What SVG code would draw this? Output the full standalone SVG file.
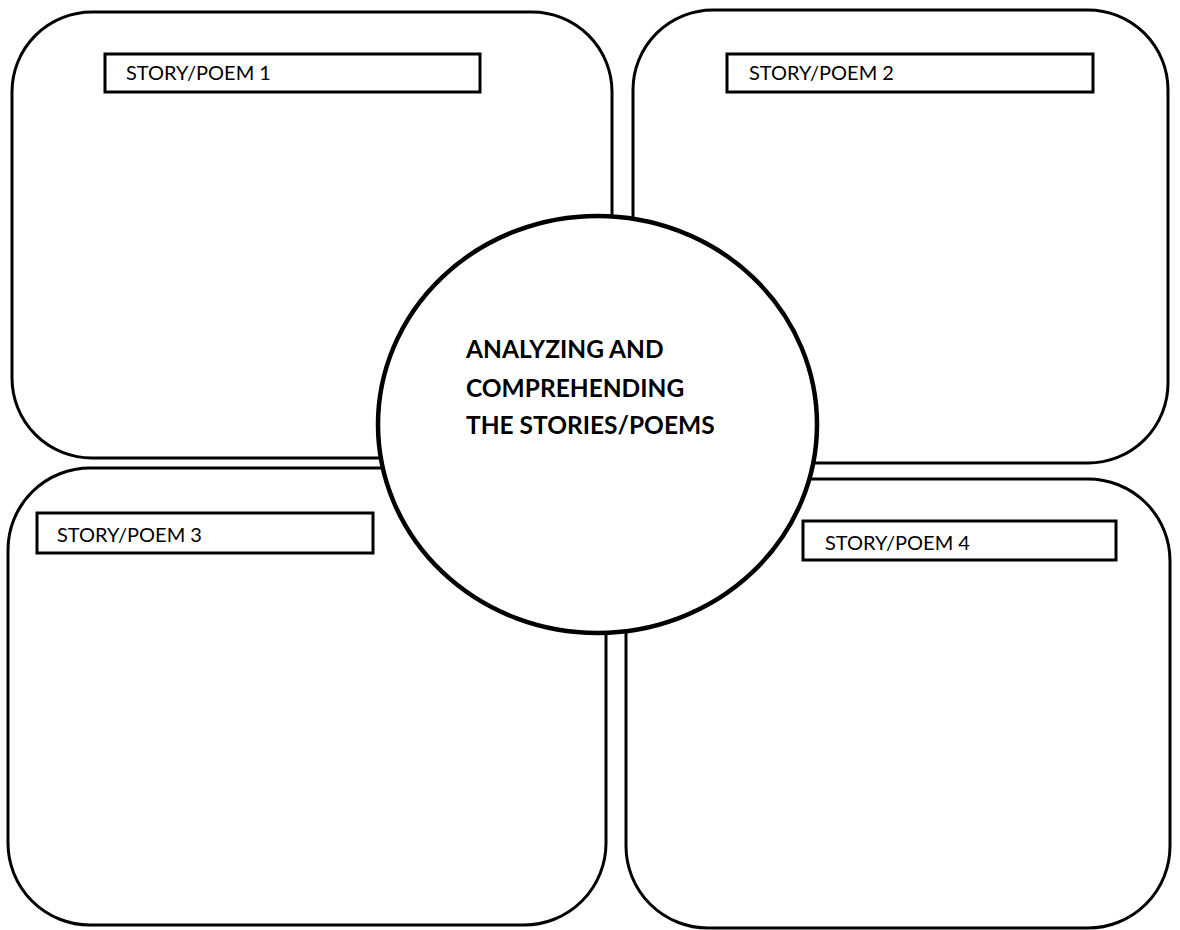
<svg xmlns="http://www.w3.org/2000/svg" width="1180" height="930" viewBox="0 0 1180 930">
  <style>
    .box { fill: #ffffff; stroke: #000000; stroke-width: 3; }
    .tag { fill: #ffffff; stroke: #000000; stroke-width: 3; }
    .tagtext { font-family: Lato, "Liberation Sans", sans-serif; font-size: 20px; fill: #000000; }
    .hub { fill: #ffffff; stroke: #000000; stroke-width: 4.5; }
    .hubtext { font-family: Lato, "Liberation Sans", sans-serif; font-size: 24.5px; font-weight: bold; fill: #000000; }
  </style>
  <rect width="1180" height="930" fill="#ffffff"/>
  <g id="connectors"></g>
  <g id="box1">
    <rect class="box" x="12" y="12" width="600" height="446" rx="80" ry="80"/>
    <rect class="tag" x="105" y="54" width="375" height="38"/>
    <text class="tagtext" x="126" y="80">STORY/POEM 1</text>
  </g>
  <g id="box2">
    <rect class="box" x="633" y="10" width="535" height="453" rx="80" ry="80"/>
    <rect class="tag" x="727" y="54" width="366" height="38"/>
    <text class="tagtext" x="749" y="80">STORY/POEM 2</text>
  </g>
  <g id="box3">
    <rect class="box" x="8" y="468" width="598" height="457" rx="82" ry="82"/>
    <rect class="tag" x="37" y="513" width="336" height="40"/>
    <text class="tagtext" x="57" y="542">STORY/POEM 3</text>
  </g>
  <g id="box4">
    <rect class="box" x="626" y="479" width="544" height="449" rx="82" ry="82"/>
    <rect class="tag" x="803" y="521" width="313" height="39"/>
    <text class="tagtext" x="825" y="550">STORY/POEM 4</text>
  </g>
  <g id="hub">
    <ellipse class="hub" cx="597.5" cy="424.5" rx="219.5" ry="208.5"/>
    <text class="hubtext" x="466" y="358">ANALYZING AND</text>
    <text class="hubtext" x="466" y="397">COMPREHENDING</text>
    <text class="hubtext" x="466" y="434">THE STORIES/POEMS</text>
  </g>
</svg>
